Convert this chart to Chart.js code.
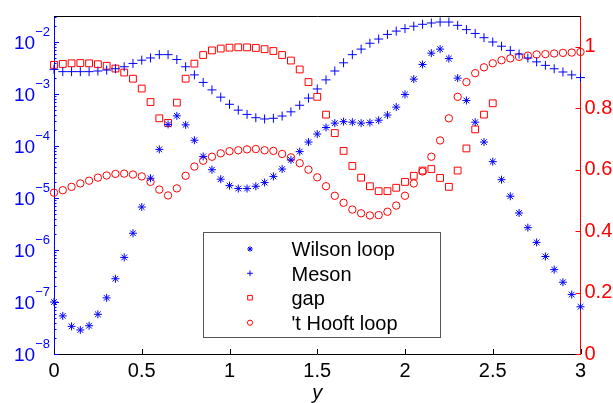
<!DOCTYPE html>
<html lang="en">
<head>
    <meta charset="UTF-8">
    <title>Wilson loop, Meson, gap, 't Hooft loop</title>
    <script src="https://cdn.jsdelivr.net/npm/chart.js"></script>
    <style>
        body {
            margin: 0;
            padding: 0;
            background: #fff;
        }
        #wrap {
            width: 613px;
            height: 403px;
        }
    </style>
</head>
<body>
    <div id="wrap">
        <canvas id="chart" width="613" height="403"></canvas>
    </div>

    <script>
        const yValues = [
            0, 0.05, 0.1, 0.15, 0.2, 0.25, 0.3, 0.35, 0.4, 0.45,
            0.5, 0.55, 0.6, 0.65, 0.7, 0.75, 0.8, 0.85, 0.9, 0.95,
            1, 1.05, 1.1, 1.15, 1.2, 1.25, 1.3, 1.35, 1.4, 1.45,
            1.5, 1.55, 1.6, 1.65, 1.7, 1.75, 1.8, 1.85, 1.9, 1.95,
            2, 2.05, 2.1, 2.15, 2.2, 2.25, 2.3, 2.35, 2.4, 2.45,
            2.5, 2.55, 2.6, 2.65, 2.7, 2.75, 2.8, 2.85, 2.9, 2.95, 3
        ];

        // left (log) axis
        const wilsonLoop = [
            1.0e-7, 5.4e-8, 3.4e-8, 2.9e-8, 3.5e-8, 5.8e-8, 1.2e-7, 2.8e-7, 7.2e-7, 2.1e-6,
            6.7e-6, 2.4e-5, 8.6e-5, 2.6e-4, 3.8e-4, 2.55e-4, 1.29e-4, 6.3e-5, 3.5e-5, 2.3e-5,
            1.73e-5, 1.52e-5, 1.52e-5, 1.68e-5, 1.98e-5, 2.6e-5, 3.6e-5, 5.4e-5, 7.8e-5, 1.19e-4,
            1.7e-4, 2.27e-4, 2.75e-4, 2.94e-4, 2.87e-4, 2.75e-4, 2.82e-4, 3.13e-4, 3.94e-4, 5.6e-4,
            9.8e-4, 1.93e-3, 3.7e-3, 6.1e-3, 7.3e-3, 4.8e-3, 2.02e-3, 7.5e-4, 2.87e-4, 1.19e-4,
            5.0e-5, 2.25e-5, 1.08e-5, 5.15e-6, 2.69e-6, 1.4e-6, 7.5e-7, 4.2e-7, 2.4e-7, 1.39e-7, 8.1e-8
        ];
        const meson = [
            2.98e-3, 2.69e-3, 2.69e-3, 2.69e-3, 2.69e-3, 2.77e-3, 2.89e-3, 3.06e-3, 3.34e-3, 3.87e-3,
            4.47e-3, 4.93e-3, 5.71e-3, 5.71e-3, 4.6e-3, 3.34e-3, 2.33e-3, 1.67e-3, 1.2e-3, 8.7e-4,
            6.34e-4, 4.89e-4, 4.05e-4, 3.5e-4, 3.31e-4, 3.41e-4, 3.77e-4, 4.54e-4, 6.07e-4, 8.34e-4,
            1.25e-3, 1.87e-3, 2.77e-3, 3.98e-3, 5.71e-3, 7.3e-3, 9.46e-3, 1.14e-2, 1.40e-2, 1.62e-2,
            1.81e-2, 2.01e-2, 2.19e-2, 2.32e-2, 2.42e-2, 2.42e-2, 2.09e-2, 1.73e-2, 1.46e-2, 1.21e-2,
            1.0e-2, 8.3e-3, 6.89e-3, 5.86e-3, 4.93e-3, 4.15e-3, 3.55e-3, 3.06e-3, 2.65e-3, 2.33e-3, 2.07e-3
        ];

        // right (linear) axis
        const gap = [
            0.941, 0.944, 0.946, 0.947, 0.946, 0.943, 0.938, 0.929, 0.916, 0.896,
            0.864, 0.820, 0.767, 0.752, 0.818, 0.896, 0.945, 0.973, 0.988, 0.994,
            0.997, 0.998, 0.998, 0.996, 0.992, 0.986, 0.973, 0.955, 0.926, 0.885,
            0.837, 0.779, 0.719, 0.661, 0.612, 0.574, 0.546, 0.530, 0.530, 0.541,
            0.560, 0.580, 0.597, 0.602, 0.573, 0.544, 0.597, 0.669, 0.731, 0.779,
            0.816, null, null, null, null, null, null, null, null, null, null
        ];
        const hooftLoop = [
            0.525, 0.533, 0.544, 0.555, 0.564, 0.574, 0.581, 0.586, 0.587, 0.584,
            0.578, 0.560, 0.535, 0.516, 0.539, 0.580, 0.610, 0.629, 0.642, 0.653,
            0.660, 0.663, 0.666, 0.667, 0.663, 0.661, 0.651, 0.640, 0.621, 0.600,
            0.575, 0.546, 0.515, 0.492, 0.470, 0.458, 0.451, 0.452, 0.463, 0.483,
            0.515, 0.555, 0.594, 0.642, 0.695, 0.767, 0.837, 0.885, 0.914, 0.933,
            0.946, 0.956, 0.962, 0.967, 0.971, 0.975, 0.976, 0.978, 0.980, 0.981, 0.983
        ];

        const xTicks = [0, 0.5, 1, 1.5, 2, 2.5, 3];
        const logExponents = [-8, -7, -6, -5, -4, -3, -2];
        const rightTicks = [0, 0.2, 0.4, 0.6, 0.8, 1];

        const BLUE = '#0000ff';
        const RED = '#ff0000';
        const FONT = "'Liberation Sans', Arial, sans-serif";

        Chart.defaults.font.family = FONT;

        function points(series) {
            return yValues
                .map((x, i) => ({ x: x, y: series[i] }))
                .filter(p => p.y !== null);
        }

        // all log ticks (1..9 x 10^n) inside the axis range
        function logTickValues(maxVal) {
            const vals = [];
            logExponents.forEach(e => {
                for (let m = 1; m <= 9; m++) {
                    const v = m * Math.pow(10, e);
                    if (v <= maxVal) vals.push(v);
                }
            });
            return vals;
        }

        // 1.0 -> "1", 0.50 -> "0.5"
        const plainLabel = v => String(+Number(v).toFixed(2));

        const LOG_MAX = Math.pow(10, -1.5);

        const axisDecor = {
            id: 'axisDecor',
            afterDraw(chart) {
                const ctx = chart.ctx;
                const area = chart.chartArea;
                const xs = chart.scales.x;
                const yl = chart.scales.yL;
                const yr = chart.scales.yR;
                ctx.save();
                ctx.lineWidth = 1;

                // top box line
                ctx.strokeStyle = '#000';
                ctx.beginPath();
                ctx.moveTo(area.left, Math.round(area.top) + 0.5);
                ctx.lineTo(area.right, Math.round(area.top) + 0.5);
                ctx.stroke();

                // x ticks, pointing inward
                ctx.beginPath();
                xTicks.forEach(v => {
                    const px = Math.round(xs.getPixelForValue(v)) + 0.5;
                    ctx.moveTo(px, area.bottom);
                    ctx.lineTo(px, area.bottom - 5);
                });
                ctx.stroke();

                // log ticks
                ctx.strokeStyle = BLUE;
                ctx.beginPath();
                logTickValues(LOG_MAX).forEach(v => {
                    const py = Math.round(yl.getPixelForValue(v)) + 0.5;
                    const major = Math.abs(Math.log10(v) - Math.round(Math.log10(v))) < 1e-9;
                    ctx.moveTo(area.left, py);
                    ctx.lineTo(area.left + (major ? 5 : 2.5), py);
                });
                ctx.stroke();

                // right ticks
                ctx.strokeStyle = RED;
                ctx.beginPath();
                rightTicks.forEach(v => {
                    const py = Math.round(yr.getPixelForValue(v)) + 0.5;
                    ctx.moveTo(area.right, py);
                    ctx.lineTo(area.right - 5, py);
                });
                ctx.stroke();

                // log axis labels 10^n
                ctx.fillStyle = BLUE;
                ctx.textAlign = 'right';
                ctx.textBaseline = 'alphabetic';
                logExponents.forEach(e => {
                    const py = yl.getPixelForValue(Math.pow(10, e));
                    const expText = '\u2212' + Math.abs(e);
                    ctx.font = '13px ' + FONT;
                    const w = ctx.measureText(expText).width;
                    ctx.fillText(expText, 50, py - 6);
                    ctx.font = '19px ' + FONT;
                    ctx.fillText('10', 50 - w, py + 6.8);
                });

                // legend
                const box = { left: 203.5, top: 232.5, right: 440.5, bottom: 337.5 };
                ctx.fillStyle = '#fff';
                ctx.fillRect(box.left, box.top, box.right - box.left, box.bottom - box.top);
                ctx.strokeStyle = '#555';
                ctx.strokeRect(box.left, box.top, box.right - box.left, box.bottom - box.top);

                const rows = [249, 273.3, 297.7, 322.7];
                const mx = 250;
                chart.data.datasets.forEach((ds, i) => {
                    const cy = rows[i];
                    ctx.strokeStyle = ds.borderColor;
                    ctx.lineWidth = 1;
                    ctx.beginPath();
                    const r = 2.8;
                    if (ds.pointStyle === 'star') {
                        ctx.moveTo(mx - r, cy); ctx.lineTo(mx + r, cy);
                        ctx.moveTo(mx, cy - r); ctx.lineTo(mx, cy + r);
                        const d = r * 0.72;
                        ctx.moveTo(mx - d, cy - d); ctx.lineTo(mx + d, cy + d);
                        ctx.moveTo(mx - d, cy + d); ctx.lineTo(mx + d, cy - d);
                    } else if (ds.pointStyle === 'cross') {
                        ctx.moveTo(mx - r, cy); ctx.lineTo(mx + r, cy);
                        ctx.moveTo(mx, cy - r); ctx.lineTo(mx, cy + r);
                    } else if (ds.pointStyle === 'rect') {
                        ctx.rect(mx - 2.3, cy - 2.3, 4.6, 4.6);
                    } else {
                        ctx.arc(mx, cy, 2.6, 0, Math.PI * 2);
                    }
                    ctx.stroke();

                    ctx.fillStyle = '#000';
                    ctx.textAlign = 'left';
                    ctx.font = '20px ' + FONT;
                    ctx.fillText(ds.label, 291.5, cy + 7.2);
                });

                ctx.restore();
            }
        };

        function dataset(label, series, axis, style, radius, color) {
            return {
                label: label,
                data: points(series),
                yAxisID: axis,
                pointStyle: style,
                pointRadius: radius,
                pointHoverRadius: radius,
                borderColor: color,
                backgroundColor: 'rgba(0,0,0,0)',
                borderWidth: 1,
                showLine: false,
                clip: false
            };
        }

        new Chart(document.getElementById('chart'), {
            type: 'scatter',
            data: {
                datasets: [
                    dataset('Wilson loop', wilsonLoop, 'yL', 'star', 4, BLUE),
                    dataset('Meson', meson, 'yL', 'cross', 4.5, BLUE),
                    dataset('gap', gap, 'yR', 'rect', 4.8, RED),
                    dataset("'t Hooft loop", hooftLoop, 'yR', 'circle', 3.7, RED)
                ]
            },
            options: {
                responsive: false,
                animation: false,
                events: [],
                layout: { padding: { top: 9, left: 0, right: 0, bottom: 0 } },
                plugins: {
                    legend: { display: false },
                    tooltip: { enabled: false }
                },
                scales: {
                    x: {
                        type: 'linear',
                        min: 0,
                        max: 3,
                        ticks: { stepSize: 0.5, color: '#000', font: { size: 20 }, padding: 5, maxRotation: 0, autoSkip: false, callback: plainLabel },
                        grid: { display: false, drawTicks: false },
                        border: { color: '#000' },
                        title: { display: true, text: 'y', color: '#000', font: { size: 20, style: 'italic' }, padding: { top: 0, bottom: -2 } },
                        afterFit: s => { s.height = 49; }
                    },
                    yL: {
                        type: 'logarithmic',
                        position: 'left',
                        min: 1e-8,
                        max: LOG_MAX,
                        ticks: { display: false, autoSkip: false },
                        grid: { display: false, drawTicks: false },
                        border: { color: BLUE },
                        afterBuildTicks: s => { s.ticks = logTickValues(LOG_MAX).map(v => ({ value: v })); },
                        afterFit: s => { s.width = 54; }
                    },
                    yR: {
                        type: 'linear',
                        position: 'right',
                        min: 0,
                        max: 1.1,
                        ticks: { stepSize: 0.2, includeBounds: false, color: RED, font: { size: 20 }, padding: 4, callback: plainLabel },
                        grid: { display: false, drawTicks: false },
                        border: { color: RED },
                        afterFit: s => { s.width = 32.5; }
                    }
                }
            },
            plugins: [axisDecor]
        });
    </script>
</body>
</html>
